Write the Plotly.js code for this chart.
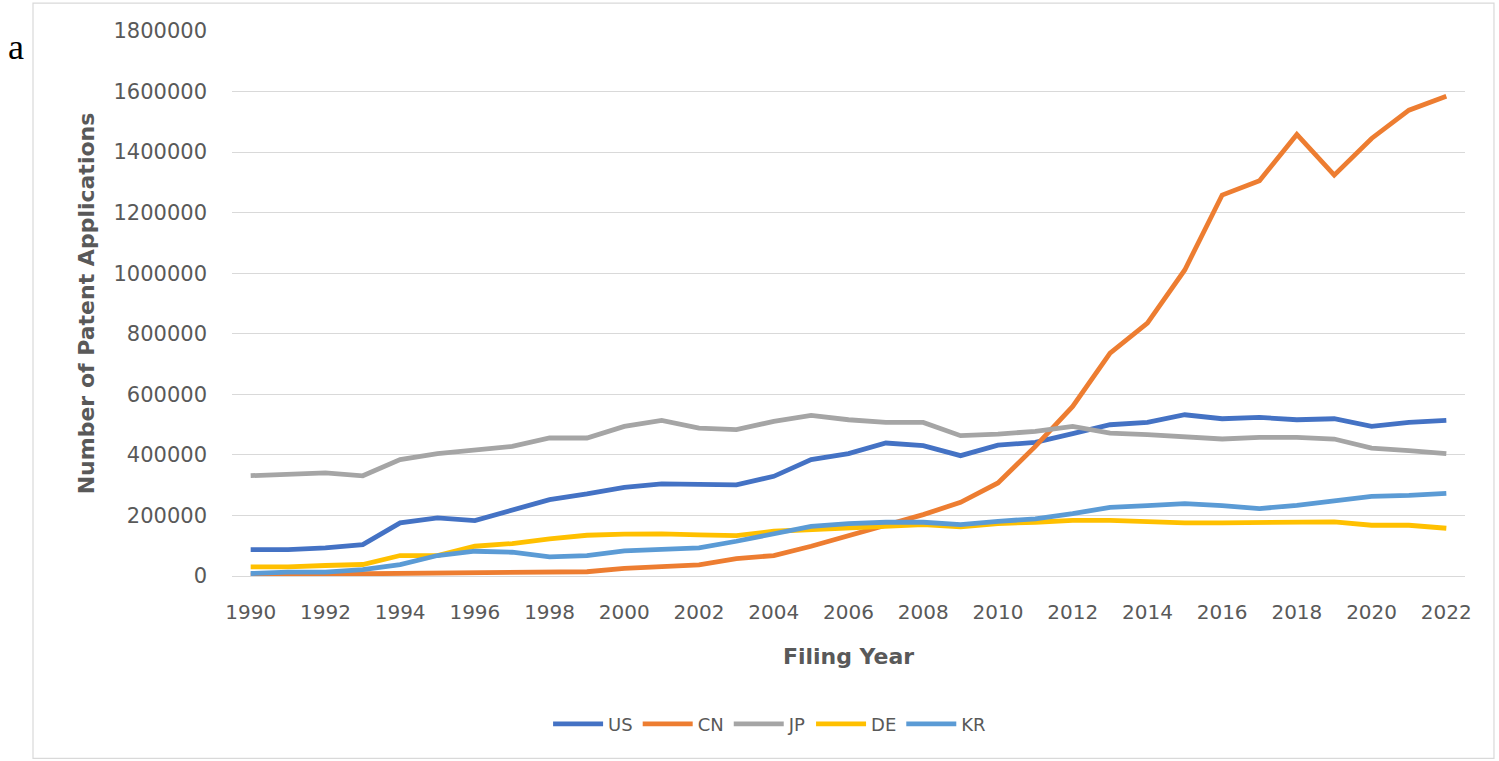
<!DOCTYPE html>
<html>
<head>
<meta charset="utf-8">
<script src="https://cdn.plot.ly/plotly-3.0.1.min.js"></script>
<style>
  html, body { margin: 0; padding: 0; background: #ffffff; }
  #chart { width: 1499px; height: 761px; }
</style>
</head>
<body>
<div id="chart"></div>
<script>
const years = [1990,1991,1992,1993,1994,1995,1996,1997,1998,1999,2000,2001,2002,2003,2004,2005,2006,2007,2008,2009,2010,2011,2012,2013,2014,2015,2016,2017,2018,2019,2020,2021,2022];

const seriesNames = ["US", "CN", "JP", "DE", "KR"];

const usValues = [87400, 87400, 93000, 103900, 175400, 191900, 183000, 219300, 252300, 271000, 293000, 304000, 304000, 300800, 329200, 384200, 404000, 439300, 430400, 397400, 432000, 441300, 470000, 499600, 507300, 532600, 519400, 523800, 516100, 519400, 494000, 507300, 513900];

const cnValues = [4000, 5000, 6500, 8000, 9000, 9500, 10000, 13000, 13000, 14000, 25000, 30000, 37000, 57700, 67600, 98300, 133600, 169800, 202800, 243400, 307400, 428000, 560000, 736100, 835000, 1010800, 1258200, 1305400, 1458300, 1324100, 1445100, 1538500, 1584700];

const jpValues = [331400, 334700, 340300, 331000, 384200, 404000, 417000, 428000, 455700, 455700, 494000, 513900, 488700, 483200, 510600, 530300, 516100, 507300, 507300, 463400, 468900, 477600, 494000, 472200, 466700, 459000, 452400, 457900, 457900, 452400, 422700, 413900, 404000];

const deValues = [30300, 30300, 34600, 37900, 67600, 67600, 98300, 107200, 122700, 134600, 138000, 139200, 135900, 133600, 147800, 153400, 159000, 164200, 169800, 162300, 173100, 177500, 184000, 184000, 179700, 175400, 175400, 175400, 178700, 178700, 167600, 167600, 157700];

const krValues = [8200, 12500, 12500, 21400, 37900, 67600, 81800, 78500, 63300, 67600, 83000, 87400, 93000, 114800, 139200, 164200, 173100, 177500, 177500, 169800, 180700, 188600, 206100, 226900, 232500, 239100, 232500, 222600, 233500, 250000, 263200, 266500, 273100];

const yTickValues = [0, 200000, 400000, 600000, 800000, 1000000, 1200000, 1400000, 1600000, 1800000];
const xTickValues = [1990,1992,1994,1996,1998,2000,2002,2004,2006,2008,2010,2012,2014,2016,2018,2020,2022];

const seriesValues = [usValues, cnValues, jpValues, deValues, krValues];
const seriesColors = ["#4472C4", "#ED7D31", "#A5A5A5", "#FFC000", "#5B9BD5"];

const traces = seriesNames.map((name, i) => ({
  type: "scatter",
  mode: "lines",
  name: name,
  x: years,
  y: seriesValues[i],
  line: { color: seriesColors[i], width: 4.8 },
  hoverinfo: "x+y+name"
}));

const greyText = "#595959";
const font = "DejaVu Sans, Noto Sans, sans-serif";

const layout = {
  width: 1499,
  height: 761,
  paper_bgcolor: "#ffffff",
  plot_bgcolor: "#ffffff",
  margin: { l: 232, r: 34, t: 31, b: 184.5, autoexpand: false },
  showlegend: true,
  legend: {
    orientation: "h",
    x: 0.436,
    xanchor: "center",
    y: -0.272,
    yanchor: "middle",
    font: { family: font, size: 18, color: greyText },
    itemwidth: 50,
    traceorder: "normal"
  },
  xaxis: {
    range: [1989.5, 2022.5],
    tickvals: xTickValues,
    ticktext: xTickValues.map(String),
    showgrid: false,
    zeroline: false,
    showline: false,
    ticks: "",
    ticklabelstandoff: 22,
    tickfont: { family: font, size: 20, color: greyText },
    title: {
      text: "Filing Year",
      font: { family: font, size: 22, color: greyText, weight: "bold" },
      standoff: 25
    }
  },
  yaxis: {
    range: [0, 1800000],
    tickvals: yTickValues,
    tickformat: "d",
    showgrid: true,
    gridcolor: "#D9D9D9",
    gridwidth: 1.2,
    zeroline: true,
    zerolinecolor: "#D9D9D9",
    zerolinewidth: 1.2,
    showline: false,
    ticks: "",
    ticklabelstandoff: 24,
    tickfont: { family: font, size: 21, color: greyText },
    title: {
      text: "Number of Patent Applications",
      font: { family: font, size: 22, color: greyText, weight: "bold" },
      standoff: 12
    }
  },
  shapes: [
    {
      type: "rect", xref: "paper", yref: "paper",
      x0: -0.1614, x1: 1.0235, y0: -0.3346, y1: 1.0513,
      line: { color: "#D9D9D9", width: 1.2 },
      fillcolor: "rgba(0,0,0,0)",
      layer: "below"
    }
  ],
  annotations: [
    {
      text: "a",
      xref: "paper", yref: "paper",
      x: -0.1752, y: 0.9707,
      xanchor: "center", yanchor: "middle",
      showarrow: false,
      font: { family: "Liberation Serif, Times New Roman, serif", size: 36, color: "#000000" }
    }
  ]
};

Plotly.newPlot("chart", traces, layout, { displayModeBar: false, staticPlot: false });
</script>
</body>
</html>
